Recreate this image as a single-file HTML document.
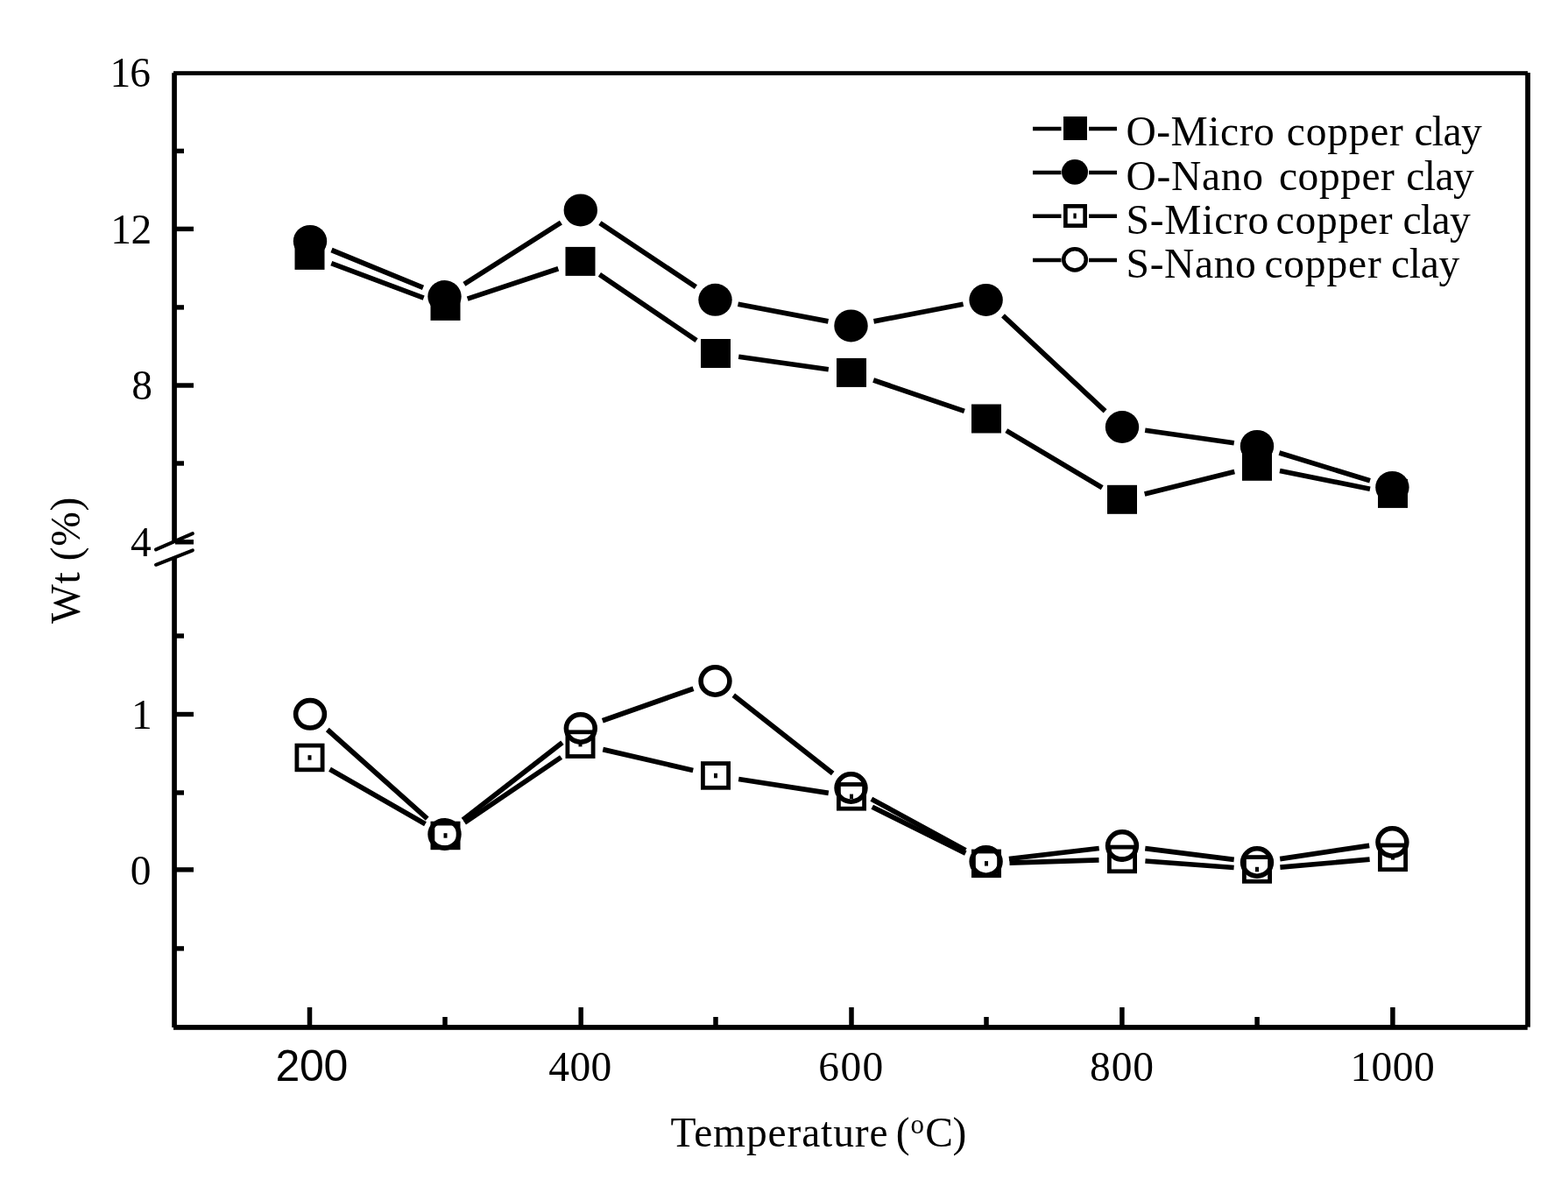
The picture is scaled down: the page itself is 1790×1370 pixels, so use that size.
<!DOCTYPE html>
<html><head><meta charset="utf-8"><title>Wt vs Temperature</title>
<style>html,body{margin:0;padding:0;background:#fff;overflow:hidden;}svg{display:block;}</style></head>
<body>
<svg width="1790" height="1370" viewBox="0 0 1790 1370">
<rect width="100%" height="100%" fill="#fff"/>
<g fill="#000">
<rect x="198" y="81.2" width="1546" height="4.8"/>
<rect x="1741.2" y="83" width="5.8" height="1089.6"/>
<rect x="198" y="1170" width="1545.8" height="5.8"/>
<rect x="196.2" y="83.2" width="5.7" height="535"/>
<rect x="196.2" y="636.5" width="5.7" height="536.5"/>
<rect x="200" y="258.70" width="21" height="5.4"/>
<rect x="200" y="437.30" width="21" height="5.4"/>
<rect x="200" y="616.10" width="21" height="5.4"/>
<rect x="200" y="812.80" width="21" height="5.4"/>
<rect x="200" y="990.20" width="21" height="5.4"/>
<rect x="200" y="169.70" width="10" height="5.4"/>
<rect x="200" y="348.20" width="10" height="5.4"/>
<rect x="200" y="526.30" width="10" height="5.4"/>
<rect x="200" y="723.30" width="10" height="5.4"/>
<rect x="200" y="902.30" width="10" height="5.4"/>
<rect x="200" y="1080.20" width="10" height="5.4"/>
<rect x="350.75" y="1150" width="5.5" height="22"/>
<rect x="505.25" y="1161" width="5.5" height="11"/>
<rect x="660.45" y="1150" width="5.5" height="22"/>
<rect x="814.25" y="1161" width="5.5" height="11"/>
<rect x="969.25" y="1150" width="5.5" height="22"/>
<rect x="1123.25" y="1161" width="5.5" height="11"/>
<rect x="1278.15" y="1150" width="5.5" height="22"/>
<rect x="1432.35" y="1161" width="5.5" height="11"/>
<rect x="1587.15" y="1150" width="5.5" height="22"/>
</g>
<path d="M178 627.4L219.9 609.2M178 644.8L219.9 628.3" stroke="#000" stroke-width="4" stroke-linecap="round"/>
<g stroke="#000" stroke-width="5.7" fill="none">
<path d="M378.3 300.7L483.7 340.1M533.7 341.1L637.3 306.8M684.4 313.4L795.1 388.6M843.2 407.2L945.8 421.7M997.1 434.0L1100.9 469.4M1148.8 491.6L1258.2 556.7M1306.7 564.0L1409.3 538.6M1461.0 537.5L1564.0 558.2"/>
<path d="M378.5 285.5L483.0 328.4M529.9 324.3L640.4 254.1M684.9 254.6L794.4 327.6M842.5 347.3L945.5 366.9M997.5 366.9L1099.6 347.3M1145.0 360.4L1261.6 469.4M1307.2 491.2L1408.8 505.7M1460.4 517.1L1564.0 548.7"/>
<path d="M376.5 878.2L485.5 940.8M530.4 939.1L640.6 864.5M688.3 855.6L791.2 879.5M843.2 889.5L945.8 905.4M995.7 921.2L1102.3 974.1M1152.5 985.1L1254.5 981.8M1307.4 983.0L1408.6 990.5M1461.4 990.2L1563.6 981.2"/>
<path d="M373.8 833.0L487.7 934.7M528.4 936.1L641.9 847.8M687.8 822.7L791.5 786.2M837.3 793.8L950.7 883.1M994.8 912.2L1102.3 970.8M1151.9 980.5L1254.7 968.5M1307.3 968.7L1408.7 981.3M1461.2 980.6L1563.2 965.4"/>
</g>
<g fill="#000">
<rect x="336.5" y="274.9" width="34" height="33"/>
<rect x="491.5" y="332.9" width="34" height="33"/>
<rect x="645.5" y="281.9" width="34" height="33"/>
<rect x="800.0" y="387.0" width="34" height="33"/>
<rect x="955.0" y="408.9" width="34" height="33"/>
<rect x="1109.0" y="461.5" width="34" height="33"/>
<rect x="1264.0" y="553.8" width="34" height="33"/>
<rect x="1418.0" y="515.8" width="34" height="33"/>
<rect x="1573.0" y="546.9" width="34" height="33"/>
<ellipse cx="354.0" cy="275.4" rx="19.2" ry="18.5"/>
<ellipse cx="507.5" cy="338.5" rx="19.2" ry="18.5"/>
<ellipse cx="662.8" cy="239.9" rx="19.2" ry="18.5"/>
<ellipse cx="816.5" cy="342.3" rx="19.2" ry="18.5"/>
<ellipse cx="971.5" cy="371.9" rx="19.2" ry="18.5"/>
<ellipse cx="1125.6" cy="342.4" rx="19.2" ry="18.5"/>
<ellipse cx="1281.0" cy="487.5" rx="19.2" ry="18.5"/>
<ellipse cx="1435.0" cy="509.4" rx="19.2" ry="18.5"/>
<ellipse cx="1589.4" cy="556.4" rx="19.2" ry="18.5"/>
</g>
<g fill="none" stroke="#000" stroke-width="4.8">
<rect x="338.9" y="851.1" width="29.2" height="27.7"/>
<rect x="493.9" y="940.1" width="29.2" height="27.7"/>
<rect x="647.9" y="835.8" width="29.2" height="27.7"/>
<rect x="802.4" y="871.6" width="29.2" height="27.7"/>
<rect x="957.4" y="895.5" width="29.2" height="27.7"/>
<rect x="1111.4" y="972.0" width="29.2" height="27.7"/>
<rect x="1266.4" y="967.1" width="29.2" height="27.7"/>
<rect x="1420.4" y="978.6" width="29.2" height="27.7"/>
<rect x="1575.4" y="965.0" width="29.2" height="27.7"/>
</g>
<g fill="none" stroke="#000" stroke-width="5.6">
<ellipse cx="354.0" cy="815.3" rx="16.40" ry="15.70"/>
<ellipse cx="507.5" cy="952.4" rx="16.40" ry="15.70"/>
<ellipse cx="662.8" cy="831.5" rx="16.40" ry="15.70"/>
<ellipse cx="816.5" cy="777.5" rx="16.40" ry="15.70"/>
<ellipse cx="971.5" cy="899.5" rx="16.40" ry="15.70"/>
<ellipse cx="1125.6" cy="983.5" rx="16.40" ry="15.70"/>
<ellipse cx="1281.0" cy="965.5" rx="16.40" ry="15.70"/>
<ellipse cx="1435.0" cy="984.5" rx="16.40" ry="15.70"/>
<ellipse cx="1589.4" cy="961.5" rx="16.40" ry="15.70"/>
</g>
<g fill="#000">
<rect x="351.5" y="862.2" width="4" height="5.5"/>
<rect x="506.5" y="951.2" width="4" height="5.5"/>
<rect x="660.5" y="846.9" width="4" height="5.5"/>
<rect x="815.0" y="882.8" width="4" height="5.5"/>
<rect x="970.0" y="906.6" width="4" height="5.5"/>
<rect x="1124.0" y="983.1" width="4" height="5.5"/>
<rect x="1279.0" y="978.2" width="4" height="5.5"/>
<rect x="1433.0" y="989.8" width="4" height="5.5"/>
<rect x="1588.0" y="976.1" width="4" height="5.5"/>
</g>
<g stroke="#000" stroke-width="4.5">
<path d="M1179 147H1211.5M1243 147H1275"/>
<path d="M1179 197H1211.5M1243 197H1275"/>
<path d="M1179 246.8H1211.5M1243 246.8H1275"/>
<path d="M1179 297H1211.5M1243 297H1275"/>
</g>
<rect x="1214" y="133" width="27" height="27" fill="#000"/>
<ellipse cx="1227" cy="196.4" rx="15" ry="14.3" fill="#000"/>
<rect x="1216.35" y="235.35" width="22.3" height="22.3" fill="none" stroke="#000" stroke-width="4.7"/>
<rect x="1225.4" y="243.5" width="3.3" height="6" fill="#000"/>
<ellipse cx="1227" cy="296.4" rx="12.8" ry="12.1" fill="none" stroke="#000" stroke-width="4.5"/>
<g fill="#000">
<text x="125.4" y="99" font-family="Liberation Serif, 'Times New Roman', serif" font-size="47.5" style="letter-spacing:-0.80px">16</text>
<text x="126.2" y="277.9" font-family="Liberation Serif, 'Times New Roman', serif" font-size="47.5" style="letter-spacing:-0.40px">12</text>
<text x="150.2" y="455.8" font-family="Liberation Serif, 'Times New Roman', serif" font-size="47.5">8</text>
<text x="149.0" y="635" font-family="Liberation Serif, 'Times New Roman', serif" font-size="47.5">4</text>
<text x="150.0" y="831.9" font-family="Liberation Serif, 'Times New Roman', serif" font-size="47.5">1</text>
<text x="148.8" y="1009.5" font-family="Liberation Serif, 'Times New Roman', serif" font-size="47.5">0</text>
<text x="314.4" y="1234" font-family="Liberation Sans, Arial, sans-serif" font-size="50" style="letter-spacing:-0.30px">200</text>
<text x="626.2" y="1233.9" font-family="Liberation Serif, 'Times New Roman', serif" font-size="47.5" style="letter-spacing:0.45px">400</text>
<text x="934.2" y="1233.9" font-family="Liberation Serif, 'Times New Roman', serif" font-size="47.5" style="letter-spacing:1.45px">600</text>
<text x="1244.0" y="1233.9" font-family="Liberation Serif, 'Times New Roman', serif" font-size="47.5" style="letter-spacing:0.90px">800</text>
<text x="1541.4" y="1233.9" font-family="Liberation Serif, 'Times New Roman', serif" font-size="47.5" style="letter-spacing:0.47px">1000</text>
<text font-family="Liberation Serif, 'Times New Roman', serif" font-size="47.5"><tspan x="1285.4" y="166" style="letter-spacing:0.52px">O-Micro </tspan><tspan x="1468.8" y="166" style="letter-spacing:0.76px">copper </tspan><tspan x="1614.4" y="166" style="letter-spacing:-0.60px">clay</tspan></text>
<text font-family="Liberation Serif, 'Times New Roman', serif" font-size="47.5"><tspan x="1285.4" y="216.8" style="letter-spacing:0.70px">O-Nano </tspan><tspan x="1460.0" y="216.8" style="letter-spacing:0.54px">copper </tspan><tspan x="1605.2" y="216.8" style="letter-spacing:-0.53px">clay</tspan></text>
<text font-family="Liberation Serif, 'Times New Roman', serif" font-size="47.5"><tspan x="1285.6" y="267" style="letter-spacing:0.73px">S-Micro </tspan><tspan x="1456.6" y="267" style="letter-spacing:0.74px">copper </tspan><tspan x="1601.4" y="267" style="letter-spacing:-0.60px">clay</tspan></text>
<text font-family="Liberation Serif, 'Times New Roman', serif" font-size="47.5"><tspan x="1285.6" y="317" style="letter-spacing:0.62px">S-Nano </tspan><tspan x="1443.4" y="317" style="letter-spacing:0.82px">copper </tspan><tspan x="1588.0" y="317" style="letter-spacing:-0.30px">clay</tspan></text>
<text font-family="Liberation Serif, 'Times New Roman', serif" font-size="47.5"><tspan x="765.6" y="1309.2" style="letter-spacing:0.86px">Temperature </tspan><tspan x="1022.8" y="1309.2">(</tspan><tspan x="1039.6" y="1293.5" font-size="31">o</tspan><tspan x="1056.2" y="1309.2">C</tspan><tspan x="1087.6" y="1309.2">)</tspan></text>
<text transform="translate(91.2 639.6) rotate(-90)" text-anchor="middle" font-family="Liberation Serif, 'Times New Roman', serif" font-size="47.5" style="letter-spacing:0.64px">Wt (%)</text>
</g>
</svg>
</body></html>
